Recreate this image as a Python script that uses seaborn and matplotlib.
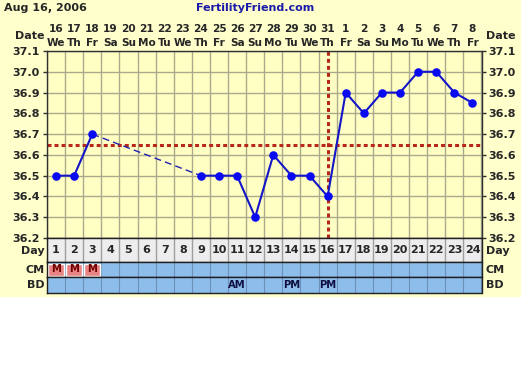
import numpy as np
import pandas as pd
import matplotlib
matplotlib.use("Agg")
import matplotlib.pyplot as plt
import seaborn as sns
from matplotlib.patches import Rectangle
import matplotlib.transforms as mtrans

# ---- data ----
days = list(range(1, 25))
dates = [16, 17, 18, 19, 20, 21, 22, 23, 24, 25, 26, 27, 28, 29, 30, 31, 1, 2, 3, 4, 5, 6, 7, 8]
weekdays = ["We", "Th", "Fr", "Sa", "Su", "Mo", "Tu", "We", "Th", "Fr", "Sa", "Su",
            "Mo", "Tu", "We", "Th", "Fr", "Sa", "Su", "Mo", "Tu", "We", "Th", "Fr"]
temps = [36.5, 36.5, 36.7, None, None, None, None, None, 36.5, 36.5, 36.5, 36.3,
         36.6, 36.5, 36.5, 36.4, 36.9, 36.8, 36.9, 36.9, 37.0, 37.0, 36.9, 36.85]
cm = ["M", "M", "M"] + [""] * 21
bd = [""] * 10 + ["AM", "", "", "PM", "", "PM"] + [""] * 8
coverline = 36.65
ovulation_day = 16
yticks = [36.2, 36.3, 36.4, 36.5, 36.6, 36.7, 36.8, 36.9, 37.0, 37.1]
header_left = "Aug 16, 2006"
header_site = "FertilityFriend.com"

sns.set_style("white")
plt.rcParams["font.family"] = ["DejaVu Sans"]

W, H = 530, 384
fig = plt.figure(figsize=(W / 100, H / 100), dpi=100)
fig.patch.set_facecolor("white")
fig.patches.append(Rectangle((0, 1 - 297 / H), 521 / W, 297 / H, transform=fig.transFigure,
                             facecolor="#FFFFCC", edgecolor="none", zorder=-10))

def fx(px):
    return px / W

def fy(py):
    return 1 - py / H

FS = 7.6
L, R = 47, 481.5
ax = fig.add_axes([fx(L), fy(238), fx(R - L), (238 - 51) / H])
ax.set_facecolor("#FFFFC4")

df = pd.DataFrame({"day": days, "temp": temps})
df["temp"] = df["temp"].astype(float)
df["seg"] = df["temp"].isna().cumsum()
dd = df.dropna()

# grid
for i in range(25):
    ax.axvline(i + 0.5, color="#ABA98C", lw=1, zorder=0)
for t in yticks:
    ax.axhline(t, color="#ABA98C", lw=1, zorder=0)

# coverline & ovulation line
red = "#B8281A"
ax.axhline(coverline, color=red, lw=2.2, ls=(0, (1.3, 1.0)), zorder=1)
ax.axvline(ovulation_day, color=red, lw=2.2, ls=(0, (1.3, 1.0)), zorder=1)

# dashed connectors across gaps
vals = dd.reset_index(drop=True)
for i in range(len(vals) - 1):
    a, b = vals.loc[i], vals.loc[i + 1]
    if b["day"] - a["day"] > 1:
        ax.plot([a["day"], b["day"]], [a["temp"], b["temp"]], color="#2020B0",
                lw=1, ls=(0, (5, 3)), zorder=2)

sns.lineplot(data=dd, x="day", y="temp", units="seg", estimator=None, ax=ax,
             color="#1515C8", lw=1.5, zorder=3, legend=False)
sns.scatterplot(data=dd, x="day", y="temp", ax=ax, color="#0A0AF0", s=38,
                edgecolor="#0A0AF0", linewidth=0, zorder=4, legend=False)

ax.set_xlim(0.5, 24.5)
ax.set_ylim(36.2, 37.1)
ax.set_xticks([])
ax.set_yticks(yticks)
ax.set_yticklabels([f"{t:.1f}" for t in yticks])
ax.tick_params(axis="y", which="both", left=True, right=True, labelleft=True, labelright=True,
               length=3, width=1, color="#303030", labelsize=FS + 0.4, pad=2)
for lab in ax.get_yticklabels():
    lab.set_fontweight("bold")
ax.set_xlabel("")
ax.set_ylabel("")
for s in ax.spines.values():
    s.set_color("#303030")
    s.set_linewidth(1)
    s.set_visible(True)

# top date labels
trans = mtrans.blended_transform_factory(ax.transData, fig.transFigure)
for d, dt, wd in zip(days, dates, weekdays):
    ax.text(d, fy(29), str(dt), transform=trans, ha="center", va="center",
            fontsize=FS, fontweight="bold")
    ax.text(d, fy(43), wd, transform=trans, ha="center", va="center",
            fontsize=FS, fontweight="bold")
fig.text(fx(45), fy(36), "Date", ha="right", va="center", fontsize=FS + 0.4, fontweight="bold")
fig.text(fx(486), fy(36), "Date", ha="left", va="center", fontsize=FS + 0.4, fontweight="bold")

fig.text(fx(4), fy(8), header_left, ha="left", va="center", fontsize=8, fontweight="bold")
fig.text(fx(196), fy(8), header_site, ha="left", va="center", fontsize=8,
         fontweight="bold", color="#1A1AA8")

# bottom rows
def row_axes(top, bottom, face):
    a = fig.add_axes([fx(L), fy(bottom), fx(R - L), (bottom - top) / H])
    a.set_xlim(0.5, 24.5)
    a.set_ylim(0, 1)
    a.set_facecolor(face)
    a.set_xticks([])
    a.set_yticks([])
    for s in a.spines.values():
        s.set_color("#202020")
        s.set_linewidth(1)
    return a

axd = row_axes(238, 262, "#EDEDED")
for i in range(25):
    axd.axvline(i + 0.5, color="#A0A0A0", lw=1)
for d in days:
    axd.text(d, 0.5, str(d), ha="center", va="center", fontsize=FS + 0.4, fontweight="bold")
fig.text(fx(45), fy(251), "Day", ha="right", va="center", fontsize=FS + 0.4, fontweight="bold")
fig.text(fx(486), fy(251), "Day", ha="left", va="center", fontsize=FS + 0.4, fontweight="bold")

axc = row_axes(262, 277, "#8CBDEB")
for i in range(25):
    axc.axvline(i + 0.5, color="#6E8FB8", lw=0.8)
mdays = [d for d, c in zip(days, cm) if c]
axc.bar(mdays, [0.8] * len(mdays), bottom=0.1, width=0.86, color="#E88484", zorder=2)
for d, c in zip(days, cm):
    if c:
        axc.text(d, 0.5, c, ha="center", va="center", fontsize=7.2, fontweight="bold",
                 color="#700000", zorder=3)
fig.text(fx(45), fy(270), "CM", ha="right", va="center", fontsize=FS + 0.4, fontweight="bold")
fig.text(fx(486), fy(270), "CM", ha="left", va="center", fontsize=FS + 0.4, fontweight="bold")

axb = row_axes(277, 293, "#8CBDEB")
for i in range(25):
    axb.axvline(i + 0.5, color="#6E8FB8", lw=0.8)
for d, b in zip(days, bd):
    if b:
        axb.text(d, 0.5, b, ha="center", va="center", fontsize=7.2, fontweight="bold",
                 color="#101040")
fig.text(fx(45), fy(285), "BD", ha="right", va="center", fontsize=FS + 0.4, fontweight="bold")
fig.text(fx(486), fy(285), "BD", ha="left", va="center", fontsize=FS + 0.4, fontweight="bold")

fig.savefig("out.png", dpi=100, facecolor=fig.get_facecolor())
